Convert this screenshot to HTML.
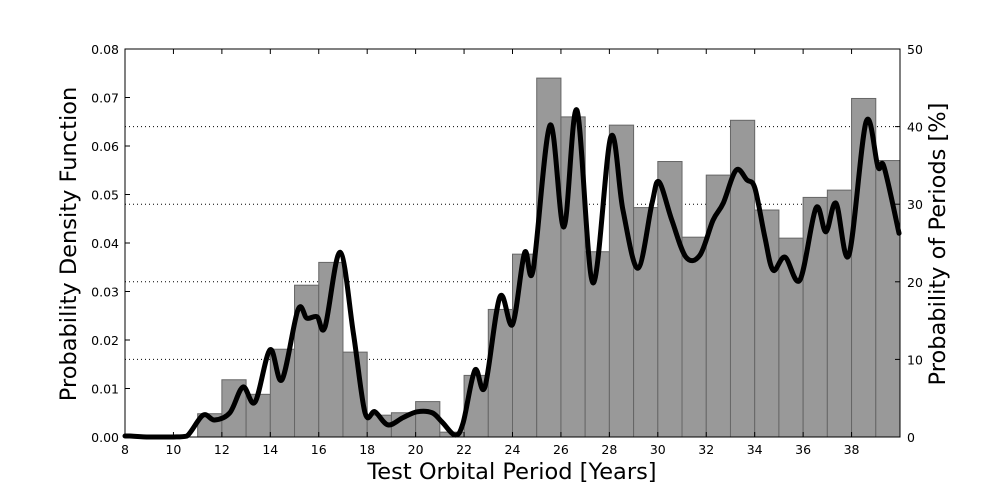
<!DOCTYPE html>
<html><head><meta charset="utf-8"><style>
body{margin:0;background:#fff;}
svg{display:block;font-family:"DejaVu Sans","Liberation Sans",sans-serif;}
</style></head><body>
<svg id="c" width="1000" height="500"></svg>
<script>
const binStarts=[11,12,13,14,15,16,17,18,19,20,21,22,23,24,25,26,27,28,29,30,31,32,33,34,35,36,37,38,39];
const binHeights=[0.0048,0.0118,0.0088,0.0181,0.0313,0.036,0.0175,0.0045,0.005,0.0073,0.001,0.0127,0.0263,0.0377,0.074,0.066,0.0382,0.0643,0.0473,0.0568,0.0412,0.054,0.0653,0.0468,0.041,0.0494,0.0509,0.0698,0.057];
const curveX=[8,8.2,9,10,10.56,11.22,11.7,12.33,12.87,13.37,13.99,14.48,15.14,15.51,15.93,16.26,16.88,17.43,17.91,18.32,18.86,19.48,20.06,20.68,21.09,21.63,21.96,22.45,22.86,23.48,24.0,24.5,24.85,25.55,26.12,26.66,27.32,28.06,28.56,29.18,29.76,30.05,30.58,31.16,31.74,32.28,32.7,33.23,33.68,34.01,34.42,34.76,35.25,35.87,36.53,36.94,37.36,37.89,38.6,39.09,39.34,39.96];
const curveY=[0.0002,0.0002,0,0,0.0002,0.0045,0.0035,0.005,0.0103,0.0072,0.018,0.0118,0.0262,0.0245,0.0248,0.0227,0.0381,0.0214,0.005,0.0052,0.0025,0.004,0.0052,0.005,0.0031,0.0004,0.0029,0.0138,0.0103,0.0289,0.0232,0.038,0.0344,0.0643,0.0433,0.0674,0.0318,0.0619,0.0468,0.0348,0.0482,0.0526,0.0447,0.0371,0.0375,0.0447,0.0482,0.055,0.053,0.0513,0.0412,0.0344,0.0371,0.0324,0.0472,0.0423,0.0482,0.0375,0.065,0.0557,0.0557,0.042];
const xTicks=[8,10,12,14,16,18,20,22,24,26,28,30,32,34,36,38];
const yTicks=[0,0.01,0.02,0.03,0.04,0.05,0.06,0.07,0.08];
const yTickLabels=["0.00","0.01","0.02","0.03","0.04","0.05","0.06","0.07","0.08"];
const y2Ticks=[0,10,20,30,40,50];

const L=125,R=900,T=49,B=437;
const sx=v=>L+(v-8)/32*(R-L);
const sy=v=>B-v/0.08*(B-T);
const sy2=v=>B-v/50*(B-T);
const svg=document.getElementById('c');
const NS='http://www.w3.org/2000/svg';
function mk(t,a,p){const e=document.createElementNS(NS,t);for(const k in a)e.setAttribute(k,a[k]);(p||svg).appendChild(e);return e;}

y2Ticks.slice(1,5).forEach(v=>{
  const g=mk('line',{x1:L,x2:R,y1:sy2(v),y2:sy2(v),stroke:'#000','stroke-width':1,'stroke-dasharray':'1,3'});
  
  
});
binStarts.forEach((s,i)=>{
  const b=mk('rect',{x:sx(s),y:sy(binHeights[i]),width:sx(s+1)-sx(s),height:B-sy(binHeights[i]),fill:'#999',stroke:'#666','stroke-width':1});
  
  
});
const pts=curveX.map((x,i)=>[sx(x),sy(curveY[i])]);
let d='M'+pts[0][0]+','+pts[0][1];
for(let i=0;i<pts.length-1;i++){
  const p0=pts[Math.max(0,i-1)],p1=pts[i],p2=pts[i+1],p3=pts[Math.min(pts.length-1,i+2)];
  const c1=[p1[0]+(p2[0]-p0[0])/6,p1[1]+(p2[1]-p0[1])/6];
  const c2=[p2[0]-(p3[0]-p1[0])/6,p2[1]-(p3[1]-p1[1])/6];
  d+=`C${c1[0]},${Math.min(c1[1],B)} ${c2[0]},${Math.min(c2[1],B)} ${p2[0]},${p2[1]}`;
}
const cp=mk('path',{d:d,fill:'none',stroke:'#000','stroke-width':5,'stroke-linejoin':'round','stroke-linecap':'round'});


const fr=mk('rect',{x:L,y:T,width:R-L,height:B-T,fill:'none',stroke:'#000','stroke-width':1});


xTicks.forEach(v=>{
  mk('line',{x1:sx(v),x2:sx(v),y1:B,y2:B-5,stroke:'#000'});
  mk('line',{x1:sx(v),x2:sx(v),y1:T,y2:T+5,stroke:'#000'});
  const t=mk('text',{x:sx(v),y:B+17,'text-anchor':'middle','font-size':12.5});
  t.textContent=v;
  
  
});
yTicks.forEach((v,i)=>{
  mk('line',{x1:L,x2:L+5,y1:sy(v),y2:sy(v),stroke:'#000'});
  const t=mk('text',{x:L-6,y:sy(v)+5,'text-anchor':'end','font-size':12.5});
  t.textContent=yTickLabels[i];
  
  
});
y2Ticks.forEach(v=>{
  mk('line',{x1:R,x2:R-5,y1:sy2(v),y2:sy2(v),stroke:'#000'});
  const t=mk('text',{x:R+7,y:sy2(v)+5,'text-anchor':'start','font-size':12.5});
  t.textContent=v;
  
  
});
let t=mk('text',{x:512,y:479,'text-anchor':'middle','font-size':22.5});
t.textContent='Test Orbital Period [Years]';


t=mk('text',{x:0,y:0,'text-anchor':'middle','font-size':22.5,transform:'translate(76,244) rotate(-90)'});
t.textContent='Probability Density Function';


t=mk('text',{x:0,y:0,'text-anchor':'middle','font-size':22.5,transform:'translate(945,244) rotate(-90)'});
t.textContent='Probability of Periods [%]';


</script>
</body></html>
